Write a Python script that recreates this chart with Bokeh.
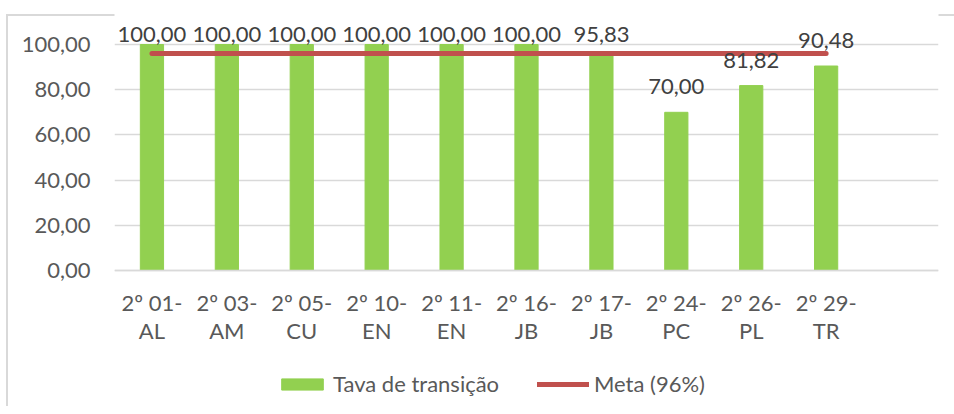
from bokeh.plotting import figure
from bokeh.models import Range1d, FixedTicker, Legend, LegendItem, ColumnDataSource
from bokeh.core.properties import value
from bokeh.embed import file_html
from bokeh.resources import INLINE
import numpy as np

categories = ["2º 01-\nAL", "2º 03-\nAM", "2º 05-\nCU", "2º 10-\nEN", "2º 11-\nEN",
              "2º 16-\nJB", "2º 17-\nJB", "2º 24-\nPC", "2º 26-\nPL", "2º 29-\nTR"]
taxa = [100.00, 100.00, 100.00, 100.00, 100.00, 100.00, 95.83, 70.00, 81.82, 90.48]
meta = [96.0, 96.0, 96.0, 96.0, 96.0, 96.0, 96.0, 96.0, 96.0, 96.0]
y_ticks = [0, 20, 40, 60, 80, 100]

FONT = "Lato"
FS = "22px"
LABEL_COLOR = "#595959"
DATA_COLOR = "#404040"
GRID = "#D9D9D9"

def fmt(v):
    return f"{v:.2f}".replace(".", ",")

x = list(range(1, len(categories) + 1))
label_y = list(np.minimum(np.array(taxa) + 11.3, 104.4))
src = ColumnDataSource(dict(x=x, taxa=taxa, meta=meta, ly=label_y,
                            txt=[fmt(v) for v in taxa]))

H = 406
PX_PER_UNIT = 2.26          # 226 px for 100 units
ZERO_FROM_TOP = 270         # px from canvas top to value 0
y_end = ZERO_FROM_TOP / PX_PER_UNIT
y_start = -(H - ZERO_FROM_TOP) / PX_PER_UNIT

p = figure(width=954, height=H, output_backend="svg", toolbar_location=None,
           x_range=Range1d(0.5, len(categories) + 1.5), y_range=Range1d(y_start, y_end),
           min_border_left=114, min_border_right=16, min_border_top=0, min_border_bottom=0)
p.outline_line_color = None
p.background_fill_color = "white"
p.border_fill_color = None
p.styles = {"background": "linear-gradient(#D9D9D9, #D9D9D9) 6px 14px / 100% 2px no-repeat, "
                          "linear-gradient(#D9D9D9, #D9D9D9) 6px 14px / 2px 100% no-repeat, white"}

bars = p.vbar(x="x", top="taxa", width=0.31, source=src, color="#92D050")
line = p.line(x="x", y="meta", source=src, line_color="#C0504D", line_width=5,
              line_cap="round")
p.text(x="x", y="ly", text="txt", source=src, text_align="center",
       text_baseline="alphabetic", text_font=value(FONT), text_font_size=FS,
       text_color=DATA_COLOR)

# y axis
p.yaxis.ticker = FixedTicker(ticks=y_ticks)
p.yaxis.major_label_overrides = {t: fmt(t) for t in y_ticks}
p.yaxis.axis_line_color = None
p.yaxis.major_tick_line_color = None
p.yaxis.minor_tick_line_color = None
p.yaxis.major_label_standoff = 18
p.yaxis.major_label_text_font = FONT
p.yaxis.major_label_text_font_size = FS
p.yaxis.major_label_text_color = LABEL_COLOR

# x axis drawn at value 0
p.xaxis.fixed_location = 0
p.xaxis.ticker = FixedTicker(ticks=x)
p.xaxis.major_label_overrides = {i: c for i, c in zip(x, categories)}
p.xaxis.axis_line_color = GRID
p.xaxis.axis_line_width = 1.5
p.xaxis.major_tick_line_color = None
p.xaxis.minor_tick_line_color = None
p.xaxis.major_label_standoff = 12
p.xaxis.major_label_text_font = FONT
p.xaxis.major_label_text_font_size = FS
p.xaxis.major_label_text_color = LABEL_COLOR
p.xaxis.major_label_text_line_height = 1.07

p.xgrid.grid_line_color = None
p.ygrid.ticker = FixedTicker(ticks=y_ticks)
p.ygrid.grid_line_color = GRID
p.ygrid.grid_line_width = 1.5

legend = Legend(items=[LegendItem(label="Tava de transição", renderers=[bars]),
                       LegendItem(label="Meta (96%)", renderers=[line])],
                orientation="horizontal", location=(162, 9),
                glyph_width=52, glyph_height=14, label_standoff=5, spacing=24,
                label_width=180,
                padding=0, margin=0, border_line_color=None, background_fill_alpha=0,
                label_text_font=FONT, label_text_font_size=FS,
                label_text_color=LABEL_COLOR)
p.add_layout(legend, "center")

open("out.html", "w").write(file_html(p, INLINE))
